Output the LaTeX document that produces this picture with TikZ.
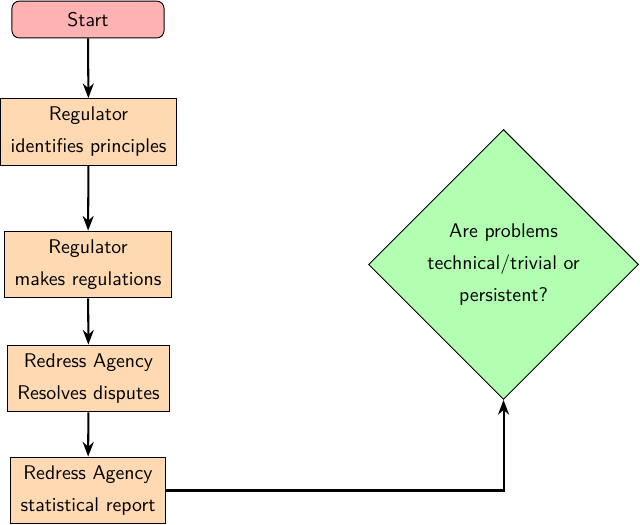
\documentclass[tikz,border=0pt]{standalone}
\usepackage{tikz}
\usetikzlibrary{arrows.meta,shapes.geometric}

\tikzset{
    startstop/.style={rectangle, rounded corners, draw=black, fill=red!30,
        minimum width=2.89cm, minimum height=0.7cm},
    process/.style={rectangle, draw=black, fill=orange!30, align=center,
        minimum height=1.27cm, inner xsep=1.9mm},
    decision/.style={diamond, draw=black, fill=green!30, align=center,
        minimum size=5.13cm, inner sep=0pt},
    arrow/.style={line width=1.1pt, ->, >=Stealth},
}

\begin{document}
\begin{tikzpicture}[font=\sffamily\fontsize{10.7}{17.3}\selectfont, line width=0.5pt]
    \useasboundingbox (0,0) rectangle (12.16,9.956);

    % 左列流程
    \node[startstop] (start) at (1.672, 9.585) {Start};
    \node[process] (pro1) at (1.682, 7.448) {Regulator\\identifies principles};
    \node[process] (pro2) at (1.672, 4.931) {Regulator\\makes regulations};
    \node[process] (pro3) at (1.682, 2.765) {Redress Agency\\Resolves disputes};
    \node[process] (pro4) at (1.672, 0.637) {Redress Agency\\statistical report};

    % 判断
    \node[decision] (dec1) at (9.567, 4.931) {Are problems\\technical/trivial or\\persistent?};

    % 箭头
    \draw[arrow] (start) -- (pro1);
    \draw[arrow] (pro1) -- (pro2);
    \draw[arrow] (pro2) -- (pro3);
    \draw[arrow] (pro3) -- (pro4);
    \draw[arrow] (pro4.east) -| (dec1.south);
\end{tikzpicture}
\end{document}
